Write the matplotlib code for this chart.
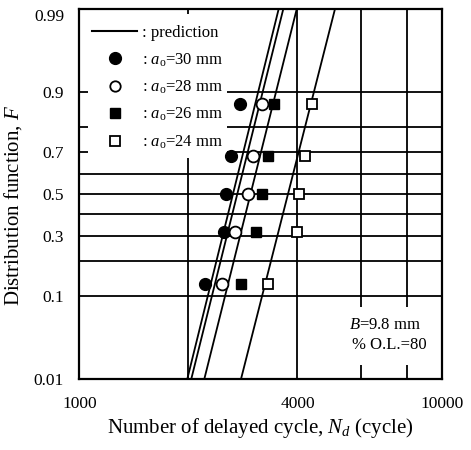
import matplotlib
matplotlib.use('Agg')
import matplotlib.pyplot as plt
import numpy as np
from statistics import NormalDist
from matplotlib.patches import Rectangle
from matplotlib.lines import Line2D
from matplotlib.ticker import NullLocator

plt.rcParams['font.family'] = 'Liberation Serif'
plt.rcParams['mathtext.fontset'] = 'custom'
plt.rcParams['mathtext.rm'] = 'Liberation Serif'
plt.rcParams['mathtext.it'] = 'Liberation Serif:italic'

# median ranks (n=5)
F_rank = [0.13, 0.315, 0.5, 0.685, 0.87]
# delayed cycles for each initial crack length
nd_30 = [2223, 2512, 2535, 2622, 2776]
nd_28 = [2471, 2690, 2927, 3021, 3186]
nd_26 = [2789, 3068, 3186, 3323, 3452]
nd_24 = [3311, 3981, 4047, 4196, 4395]

# predicted lines, given at F = 0.01 and F = 0.99
F_pred = [0.01, 0.99]
pred_30 = [1986, 3549]
pred_28 = [2037, 3655]
pred_26 = [2213, 3981]
pred_24 = [2794, 5076]

x_ticks = [1000, 4000, 10000]
y_ticks = [0.01, 0.1, 0.3, 0.5, 0.7, 0.9, 0.99]
y_ticklabels = ['0.01', '0.1', '0.3', '0.5', '0.7', '0.9', '0.99']
grid_x = [2000, 4000, 6000, 8000]
grid_F = [0.1, 0.2, 0.3, 0.4, 0.5, 0.6, 0.7, 0.8, 0.9]

_nd = NormalDist()
_ppf = np.vectorize(lambda p: _nd.inv_cdf(min(max(p, 1e-9), 1 - 1e-9)) if p == p else np.nan, otypes=[float])
_cdf = np.vectorize(lambda z: _nd.cdf(z) if z == z else np.nan, otypes=[float])


def fwd(p):
    return _ppf(np.asarray(p, dtype=float))


def inv(z):
    return _cdf(np.asarray(z, dtype=float))


fig = plt.figure(figsize=(4.71, 4.5), dpi=100)
ax = fig.add_axes([79.3 / 471, 1 - 379 / 450, 362.4 / 471, 370 / 450])
ax.set_xscale('log')
ax.set_yscale('function', functions=(fwd, inv))
ax.set_xlim(1000, 10000)
ax.set_ylim(0.01, 0.99)

# grid
for gx in grid_x:
    ax.axvline(gx, color='black', lw=1.3, zorder=0.5)
for gy in grid_F:
    ax.axhline(gy, color='black', lw=1.3, zorder=0.5)

# white patches behind legend and note
ax.add_patch(Rectangle((0.024, 0.597), 0.383, 0.39, transform=ax.transAxes,
                       facecolor='white', edgecolor='none', zorder=1))
ax.add_patch(Rectangle((0.72, 0.038), 0.26, 0.157, transform=ax.transAxes,
                       facecolor='white', edgecolor='none', zorder=1))

# prediction lines
for pr in [pred_30, pred_28, pred_26, pred_24]:
    ax.plot(pr, F_pred, color='black', lw=1.3, zorder=2)

ms = 8.5
ax.plot(nd_30, F_rank, 'o', color='black', ms=ms, zorder=3)
ax.plot(nd_28, F_rank, 'o', mfc='white', mec='black', mew=1.3, ms=ms, zorder=3)
ax.plot(nd_26, F_rank, 's', color='black', ms=ms - 1, zorder=3)
ax.plot(nd_24, F_rank, 's', mfc='white', mec='black', mew=1.3, ms=ms - 1, zorder=3)

handles = [
    Line2D([], [], color='black', lw=1.5),
    Line2D([], [], ls='none', marker='o', color='black', ms=ms),
    Line2D([], [], ls='none', marker='o', mfc='white', mec='black', mew=1.3, ms=ms - 1),
    Line2D([], [], ls='none', marker='s', color='black', ms=ms - 1),
    Line2D([], [], ls='none', marker='s', mfc='white', mec='black', mew=1.3, ms=ms - 1.5),
]
labels = [': prediction',
          r': $a_{\rm o}$=30 mm',
          r': $a_{\rm o}$=28 mm',
          r': $a_{\rm o}$=26 mm',
          r': $a_{\rm o}$=24 mm']
leg = ax.legend(handles, labels, loc='upper left', bbox_to_anchor=(0.036, 0.956),
                frameon=False, borderpad=0, borderaxespad=0, handlelength=2.7,
                handletextpad=0.3, labelspacing=0.6, fontsize=12)
leg.set_zorder(4)

ax.text(0.744, 0.146, r'$B$=9.8 mm', transform=ax.transAxes, fontsize=12,
        va='center', ha='left', zorder=4)
ax.text(0.752, 0.092, '% O.L.=80', transform=ax.transAxes, fontsize=12,
        va='center', ha='left', zorder=4)

ax.xaxis.set_minor_locator(NullLocator())
ax.yaxis.set_minor_locator(NullLocator())
ax.set_xticks(x_ticks)
ax.set_xticklabels([str(v) for v in x_ticks])
ax.set_yticks(y_ticks)
ax.set_yticklabels(y_ticklabels)
ax.tick_params(length=0, labelsize=12.5)
ax.tick_params(axis='y', pad=11)
ax.tick_params(axis='x', pad=12)
ax.get_yticklabels()[-1].set_va('top')

for sp in ax.spines.values():
    sp.set_linewidth(1.6)
    sp.set_zorder(5)

ax.set_xlabel(r'Number of delayed cycle, $N_d$ (cycle)', fontsize=15)
ax.xaxis.set_label_coords(0.5, -0.1)
ax.set_ylabel(r'Distribution function, $F$', fontsize=15)
ax.yaxis.set_label_coords(-0.153, 0.47)

fig.savefig('out.png', dpi=100)
